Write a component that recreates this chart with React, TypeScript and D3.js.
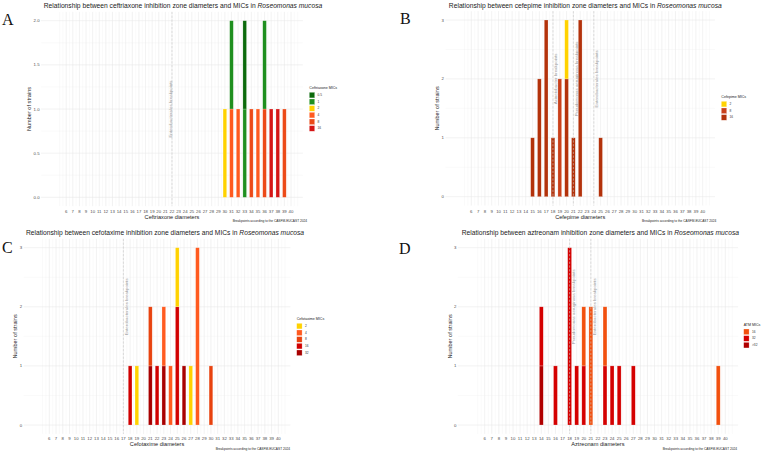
import React from "react";
import * as d3 from "d3";

// ---- data ----
const diameterTicks = d3.range(6, 41);

const ceftriaxoneMics = ["0.5", "1", "2", "4", "8", "16"];
const ceftriaxoneColors = ["#0b6a0b", "#1f8f1f", "#ffd200", "#ff5a1f", "#ec4a18", "#d51515"];
const ceftriaxoneCounts: [number, string, number][] = [
  [30, "2", 1], [31, "4", 1], [31, "1", 1], [32, "4", 1], [33, "1", 1], [33, "0.5", 1],
  [34, "8", 1], [35, "4", 1], [36, "8", 1], [36, "1", 1], [37, "16", 1], [38, "16", 1], [39, "8", 1],
];

const cefepimeMics = ["2", "8", "16"];
const cefepimeColors = ["#ffd200", "#c9401a", "#b3320b"];
const cefepimeCounts: [number, string, number][] = [
  [15, "16", 1], [16, "16", 2], [17, "16", 3], [18, "16", 1], [19, "8", 2],
  [20, "16", 2], [20, "2", 1], [21, "16", 1], [22, "16", 3], [25, "16", 1],
];

const cefotaximeMics = ["2", "4", "8", "16", "32"];
const cefotaximeColors = ["#ffd200", "#ff5a1f", "#e8430f", "#d10000", "#a80000"];
const cefotaximeCounts: [number, string, number][] = [
  [18, "16", 1], [19, "2", 1], [21, "32", 1], [21, "8", 1], [22, "16", 1], [23, "32", 1],
  [23, "4", 1], [24, "4", 1], [25, "16", 2], [25, "2", 1], [26, "32", 1], [27, "2", 1],
  [28, "4", 3], [30, "8", 1],
];

const aztreonamMics = ["16", "32", ">32"];
const aztreonamColors = ["#f2500e", "#d40000", "#b00000"];
const aztreonamCounts: [number, string, number][] = [
  [14, ">32", 1], [14, "32", 1], [16, "32", 1], [18, "32", 3], [19, "32", 1], [20, "32", 1],
  [20, "16", 1], [21, "16", 2], [23, "32", 1], [23, "16", 1], [24, "32", 1], [25, "32", 1],
  [27, "32", 1], [39, "16", 1],
];

const breakpointsA = [{ at: 22, label: "Enterobacterales breakpoints" }];
const breakpointsB = [
  { at: 18, label: "Acinetobacter breakpoints" },
  { at: 21, label: "Pseudomonas aeruginosa breakpoints" },
  { at: 24, label: "Enterobacterales breakpoints" },
];
const breakpointsC = [{ at: 17, label: "Enterobacterales breakpoints" }];
const breakpointsD = [
  { at: 18, label: "Pseudomonas aeruginosa breakpoints" },
  { at: 21, label: "Enterobacterales breakpoints" },
];

const yTicksA = [0, 0.5, 1, 1.5, 2];
const yTicksOther = [0, 1, 2, 3];

const FONT = "'Liberation Sans', Arial, Helvetica, sans-serif";

const panels = [
  {
    letter: "A", drug: "ceftriaxone", xTitle: "Ceftriaxone diameters", legendTitle: "Ceftriaxone MICs",
    mics: ceftriaxoneMics, colors: ceftriaxoneColors, counts: ceftriaxoneCounts, breaks: breakpointsA,
    yTicks: yTicksA, yFmt: (v: number) => v.toFixed(1), labelY: 1,
    x6: 66.2, x40: 291, y0: 197.3, yTop: 20.7, letterX: 2, letterY: 25, titleX: 183, titleY: 7.5,
    yTitleX: 29, tickY: 212.5, xTitleY: 218.5, capRight: 307, capY: 222.3, legX: 309.3, legY: 88.3, labelDx: -1.5,
  },
  {
    letter: "B", drug: "cefepime", xTitle: "Cefepime diameters", legendTitle: "Cefepime MICs",
    mics: cefepimeMics, colors: cefepimeColors, counts: cefepimeCounts, breaks: breakpointsB,
    yTicks: yTicksOther, yFmt: (v: number) => String(v), labelY: 2,
    x6: 471.3, x40: 702.7, y0: 196.7, yTop: 20, letterX: 400, letterY: 24, titleX: 585.3, titleY: 7.5,
    yTitleX: 437, tickY: 212.5, xTitleY: 218.5, capRight: 716.3, capY: 222.3, legX: 721.3, legY: 97.3, labelDx: 3,
  },
  {
    letter: "C", drug: "cefotaxime", xTitle: "Cefotaxime diameters", legendTitle: "Cefotaxime MICs",
    mics: cefotaximeMics, colors: cefotaximeColors, counts: cefotaximeCounts, breaks: breakpointsC,
    yTicks: yTicksOther, yFmt: (v: number) => String(v), labelY: 2,
    x6: 49.3, x40: 278.3, y0: 425, yTop: 247.7, letterX: 2, letterY: 253, titleX: 165, titleY: 235,
    yTitleX: 15, tickY: 439.5, xTitleY: 446, capRight: 290, capY: 449.7, legX: 296.7, legY: 319.3, labelDx: 3,
  },
  {
    letter: "D", drug: "aztreonam", xTitle: "Aztreonam diameters", legendTitle: "ATM MICs",
    mics: aztreonamMics, colors: aztreonamColors, counts: aztreonamCounts, breaks: breakpointsD,
    yTicks: yTicksOther, yFmt: (v: number) => String(v), labelY: 2,
    x6: 484.7, x40: 725.3, y0: 425, yTop: 247.7, letterX: 399, letterY: 254, titleX: 600.3, titleY: 235,
    yTitleX: 450.3, tickY: 439.5, xTitleY: 446, capRight: 737, capY: 449.7, legX: 743.7, legY: 325, labelDx: 4,
  },
];

function Panel({ p }: { p: any }) {
  const yMax = p.yTicks[p.yTicks.length - 1];
  const x = d3.scaleLinear().domain([6, 40]).range([p.x6, p.x40]);
  const y = d3.scaleLinear().domain([0, yMax]).range([p.y0, p.yTop]);
  const color = d3.scaleOrdinal<string, string>().domain(p.mics).range(p.colors);

  const left = x(2.2), right = x(41.8);
  const bottom = y(-0.05 * yMax), top = y(1.05 * yMax);

  // one row per diameter, one column per MIC level
  const byDiam = d3.rollup(p.counts, (v: any[]) => v, (r: any) => r[0]);
  const table = Array.from(byDiam, ([d, rows]) => {
    const row: any = { d };
    p.mics.forEach((m: string) => (row[m] = 0));
    rows.forEach((r: any) => (row[r[1]] += r[2]));
    return row;
  });
  // highest MIC at the bottom, lowest on top (ggplot stacking order)
  const series = d3.stack<any>().keys([...p.mics].reverse())(table);

  const yStep = p.yTicks[1] - p.yTicks[0];
  const yMinor = p.yTicks.slice(0, -1).map((t: number) => t + yStep / 2);
  const xMinor = d3.range(5, 41.5, 0.5).filter((v) => !Number.isInteger(v) || v < 6 || v > 40);
  const barW = x(0.55) - x(0);

  return (
    <g fontFamily={FONT}>
      {/* grid */}
      {xMinor.map((v) => (
        <line key={"xm" + v} x1={x(v)} x2={x(v)} y1={top} y2={bottom} stroke="#efefef" strokeWidth={0.3} />
      ))}
      {diameterTicks.map((v) => (
        <line key={"xM" + v} x1={x(v)} x2={x(v)} y1={top} y2={bottom} stroke="#e8e8e8" strokeWidth={0.55} />
      ))}
      {yMinor.map((v: number) => (
        <line key={"ym" + v} x1={left} x2={right} y1={y(v)} y2={y(v)} stroke="#efefef" strokeWidth={0.3} />
      ))}
      {p.yTicks.map((v: number) => (
        <line key={"yM" + v} x1={left} x2={right} y1={y(v)} y2={y(v)} stroke="#e8e8e8" strokeWidth={0.55} />
      ))}

      {/* bars */}
      {series.map((s: any) => (
        <g key={s.key} fill={color(s.key)}>
          {s.filter((seg: any) => seg[1] > seg[0]).map((seg: any) => (
            <rect
              key={seg.data.d}
              x={x(seg.data.d) - barW / 2}
              width={barW}
              y={y(seg[1])}
              height={y(seg[0]) - y(seg[1])}
              stroke="#ffffff"
              strokeOpacity={0.45}
              strokeWidth={0.5}
            />
          ))}
        </g>
      ))}

      {/* breakpoint lines and labels */}
      {p.breaks.map((b: any) => (
        <g key={b.label}>
          <line x1={x(b.at)} x2={x(b.at)} y1={top} y2={bottom} stroke="#c8c8c8" strokeWidth={0.6} strokeDasharray="2.2,1.6" />
          <text
            transform={`translate(${x(b.at) + p.labelDx},${y(p.labelY)}) rotate(-90)`}
            textAnchor="middle"
            dominantBaseline="central"
            fontSize={4.4}
            fill="#9a9a9a"
          >
            {b.label}
          </text>
        </g>
      ))}

      {/* axes */}
      {diameterTicks.map((v) => (
        <text key={"xt" + v} x={x(v)} y={p.tickY} textAnchor="middle" fontSize={4.3} fill="#4d4d4d">
          {v}
        </text>
      ))}
      {p.yTicks.map((v: number) => (
        <text key={"yt" + v} x={left - 1.5} y={y(v)} textAnchor="end" dominantBaseline="central" fontSize={4.3} fill="#4d4d4d">
          {p.yFmt(v)}
        </text>
      ))}
      <text x={(left + right) / 2} y={p.xTitleY} textAnchor="middle" fontSize={5.6} fill="#222">
        {p.xTitle}
      </text>
      <text
        transform={`translate(${p.yTitleX},${(top + bottom) / 2}) rotate(-90)`}
        textAnchor="middle"
        dominantBaseline="central"
        fontSize={5.6}
        fill="#222"
      >
        Number of strains
      </text>

      {/* title */}
      <text x={p.titleX} y={p.titleY} textAnchor="middle" fontSize={6.7} fill="#222">
        {`Relationship between ${p.drug} inhibition zone diameters and MICs in `}
        <tspan fontStyle="italic">Roseomonas mucosa</tspan>
      </text>
      <text x={p.capRight} y={p.capY} textAnchor="end" fontSize={3.2} fill="#222">
        Breakpoints according to the CASFM-EUCAST 2024
      </text>

      {/* legend */}
      <text x={p.legX} y={p.legY} dominantBaseline="central" fontSize={3.6} fill="#222">
        {p.legendTitle}
      </text>
      {p.mics.map((m: string, i: number) => {
        const cy = p.legY + 6.8 + i * 6.67;
        return (
          <g key={"lg" + m}>
            <rect x={p.legX} y={cy - 2.8} width={5.4} height={5.6} fill={color(m)} stroke="#ffffff" strokeOpacity={0.5} strokeWidth={0.5} />
            <text x={p.legX + 8.3} y={cy} dominantBaseline="central" fontSize={3.2} fill="#333">
              {m}
            </text>
          </g>
        );
      })}

      {/* panel letter */}
      <text x={p.letterX} y={p.letterY} fontFamily="'Liberation Serif', 'Times New Roman', serif" fontSize={16} fill="#111">
        {p.letter}
      </text>
    </g>
  );
}

export default function App() {
  return (
    <svg width={764} height={452} style={{ position: "absolute", left: 0, top: 0, background: "#fff" }}>
      <rect width={764} height={452} fill="#ffffff" />
      {panels.map((p) => (
        <Panel key={p.letter} p={p} />
      ))}
    </svg>
  );
}
